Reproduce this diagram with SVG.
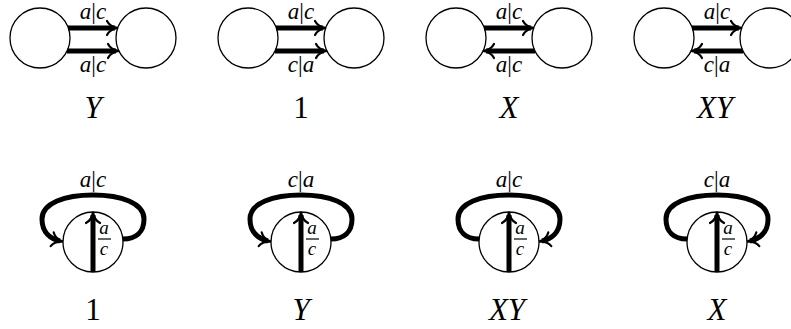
<svg xmlns="http://www.w3.org/2000/svg" width="791" height="329" viewBox="0 0 791 329">
<defs>
<style>
.node{fill:#fff;stroke:#000;stroke-width:1.3}
.edge{fill:none;stroke:#000;stroke-width:5;marker-end:url(#ah)}
.lbl{font-family:"Liberation Serif","DejaVu Serif",serif;font-size:23px;text-anchor:middle;fill:#000}
.frac{font-family:"Liberation Serif","DejaVu Serif",serif;font-size:19px;font-style:italic;text-anchor:middle;fill:#000}
.big{font-family:"Liberation Serif","DejaVu Serif",serif;font-size:31px;text-anchor:middle;fill:#000}
.it{font-style:italic}
.bar{stroke:#000;stroke-width:1.2}
</style>
<marker id="ah" markerUnits="userSpaceOnUse" viewBox="-13 -9 16 18" refX="-3" refY="0" markerWidth="16" markerHeight="18" orient="auto" overflow="visible">
<path d="M -11,-7 C -9,-3 -4,-0.6 0,0 C -4,0.6 -9,3 -11,7" fill="none" stroke="#000" stroke-width="2.2" stroke-linecap="round"/>
</marker>
<path id="loop" d="M 30,-3 C 43,-3 51,-10 51,-23 C 51,-39 28,-47 0,-47 C -28,-47 -51,-39 -51,-23 C -51,-9 -42,-3 -33,-1"/>
</defs>

<!-- Top row nodes -->
<g id="n1a"><circle class="node" cx="40" cy="38" r="30"/></g>
<g id="n1b"><circle class="node" cx="146" cy="38" r="30"/></g>
<g id="n2a"><circle class="node" cx="248" cy="38" r="30"/></g>
<g id="n2b"><circle class="node" cx="354" cy="38" r="30"/></g>
<g id="n3a"><circle class="node" cx="456" cy="38" r="30"/></g>
<g id="n3b"><circle class="node" cx="562" cy="38" r="30"/></g>
<g id="n4a"><circle class="node" cx="664" cy="38" r="30"/></g>
<g id="n4b"><circle class="node" cx="770" cy="38" r="30"/></g>

<!-- Bottom row nodes -->
<g id="m1"><circle class="node" cx="93" cy="242" r="30"/></g>
<g id="m2"><circle class="node" cx="301" cy="242" r="30"/></g>
<g id="m3"><circle class="node" cx="509" cy="242" r="30"/></g>
<g id="m4"><circle class="node" cx="717" cy="242" r="30"/></g>

<g id="connectors">
<path class="edge" d="M 68,28 L 115,28"/>
<path class="edge" d="M 67,51 L 116,51"/>
<path class="edge" d="M 276,28 L 323,28"/>
<path class="edge" d="M 275,51 L 324,51"/>
<path class="edge" d="M 484,28 L 531,28"/>
<path class="edge" d="M 535,51 L 486,51"/>
<path class="edge" d="M 692,28 L 739,28"/>
<path class="edge" d="M 743,51 L 694,51"/>

<path class="edge" d="M 93,272 L 93,215"/>
<path class="edge" d="M 301,272 L 301,215"/>
<path class="edge" d="M 509,272 L 509,215"/>
<path class="edge" d="M 717,272 L 717,215"/>

<use href="#loop" class="edge" transform="translate(93,242)"/>
<use href="#loop" class="edge" transform="translate(301,242)"/>
<use href="#loop" class="edge" transform="translate(509,242) scale(-1,1)"/>
<use href="#loop" class="edge" transform="translate(717,242) scale(-1,1)"/>
</g>

<g id="edge-labels">
<text class="lbl" x="93" y="19"><tspan class="it">a</tspan>|<tspan class="it">c</tspan></text>
<text class="lbl" x="93" y="72"><tspan class="it">a</tspan>|<tspan class="it">c</tspan></text>
<text class="lbl" x="301" y="19"><tspan class="it">a</tspan>|<tspan class="it">c</tspan></text>
<text class="lbl" x="301" y="72"><tspan class="it">c</tspan>|<tspan class="it">a</tspan></text>
<text class="lbl" x="509" y="19"><tspan class="it">a</tspan>|<tspan class="it">c</tspan></text>
<text class="lbl" x="509" y="72"><tspan class="it">a</tspan>|<tspan class="it">c</tspan></text>
<text class="lbl" x="717" y="19"><tspan class="it">a</tspan>|<tspan class="it">c</tspan></text>
<text class="lbl" x="717" y="72"><tspan class="it">c</tspan>|<tspan class="it">a</tspan></text>

<text class="lbl" x="93" y="187"><tspan class="it">a</tspan>|<tspan class="it">c</tspan></text>
<text class="lbl" x="301" y="187"><tspan class="it">c</tspan>|<tspan class="it">a</tspan></text>
<text class="lbl" x="509" y="187"><tspan class="it">a</tspan>|<tspan class="it">c</tspan></text>
<text class="lbl" x="717" y="187"><tspan class="it">c</tspan>|<tspan class="it">a</tspan></text>

<g id="fractions">
<text class="frac" x="104" y="233.5">a</text><line class="bar" x1="98" y1="239" x2="111" y2="239"/><text class="frac" x="104" y="255">c</text>
<text class="frac" x="312" y="233.5">a</text><line class="bar" x1="306" y1="239" x2="319" y2="239"/><text class="frac" x="312" y="255">c</text>
<text class="frac" x="520" y="233.5">a</text><line class="bar" x1="514" y1="239" x2="527" y2="239"/><text class="frac" x="520" y="255">c</text>
<text class="frac" x="728" y="233.5">a</text><line class="bar" x1="722" y1="239" x2="735" y2="239"/><text class="frac" x="728" y="255">c</text>
</g>
</g>

<g id="captions">
<text class="big it" x="93" y="118">Y</text>
<text class="big" x="301" y="118">1</text>
<text class="big it" x="509" y="118">X</text>
<text class="big it" x="715" y="118">XY</text>
<text class="big" x="93" y="320">1</text>
<text class="big it" x="301" y="320">Y</text>
<text class="big it" x="507" y="320">XY</text>
<text class="big it" x="717" y="320">X</text>
</g>
</svg>
